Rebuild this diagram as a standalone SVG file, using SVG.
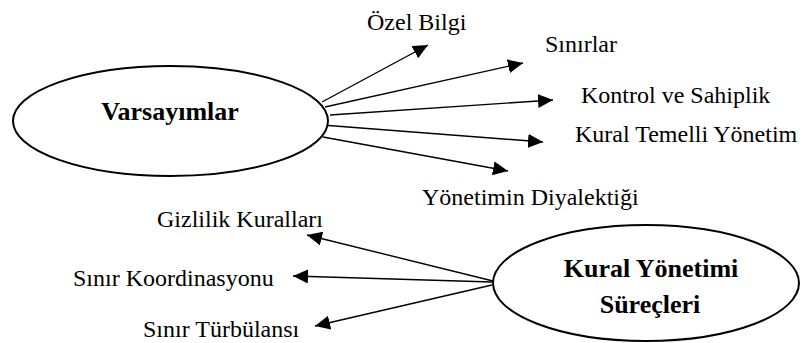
<svg xmlns="http://www.w3.org/2000/svg" width="802" height="343" viewBox="0 0 802 343">
<style>
.node ellipse{fill:#fff;stroke:#000;stroke-width:2}
.title{font-family:'Liberation Serif','DejaVu Serif',serif;font-weight:bold;font-size:26px;fill:#000;text-anchor:middle}
.lbl{font-family:'Liberation Serif','DejaVu Serif',serif;font-size:24px;fill:#000}
#connectors line{stroke:#000;stroke-width:1.4;marker-end:url(#ah)}
</style>
<defs>
<marker id="ah" markerUnits="userSpaceOnUse" markerWidth="16" markerHeight="14" refX="15" refY="7" orient="auto">
<path d="M0,0 L15,7 L0,14 Z" fill="#000"/>
</marker>
</defs>
<rect width="802" height="343" fill="#fff"/>
<g id="connectors">
<line x1="322" y1="102" x2="428" y2="45"/>
<line x1="325" y1="107" x2="523" y2="63"/>
<line x1="330" y1="115" x2="553" y2="100"/>
<line x1="322" y1="125" x2="543" y2="142"/>
<line x1="323" y1="137" x2="508" y2="171"/>
<line x1="493" y1="281" x2="307" y2="235"/>
<line x1="492" y1="282" x2="293" y2="276"/>
<line x1="492" y1="285" x2="315" y2="326"/>
</g>
<g id="varsayimlar" class="node">
<ellipse cx="170.5" cy="121" rx="157.5" ry="55"/>
<text class="title" x="170" y="120">Varsayımlar</text>
</g>
<g id="kural-yonetimi" class="node">
<ellipse cx="646" cy="283" rx="153" ry="58"/>
<text class="title" x="651" y="277">Kural Yönetimi</text>
<text class="title" x="650" y="313">Süreçleri</text>
</g>
<g id="ozel-bilgi"><text class="lbl" x="367" y="30">Özel Bilgi</text></g>
<g id="sinirlar"><text class="lbl" x="545" y="52">Sınırlar</text></g>
<g id="kontrol"><text class="lbl" x="581" y="103">Kontrol ve Sahiplik</text></g>
<g id="kural-temelli"><text class="lbl" x="575" y="142">Kural Temelli Yönetim</text></g>
<g id="diyalektik"><text class="lbl" x="422" y="205">Yönetimin Diyalektiği</text></g>
<g id="gizlilik"><text class="lbl" x="157" y="227">Gizlilik Kuralları</text></g>
<g id="koordinasyon"><text class="lbl" x="73" y="286">Sınır Koordinasyonu</text></g>
<g id="turbulans"><text class="lbl" x="143" y="337">Sınır Türbülansı</text></g>
</svg>
